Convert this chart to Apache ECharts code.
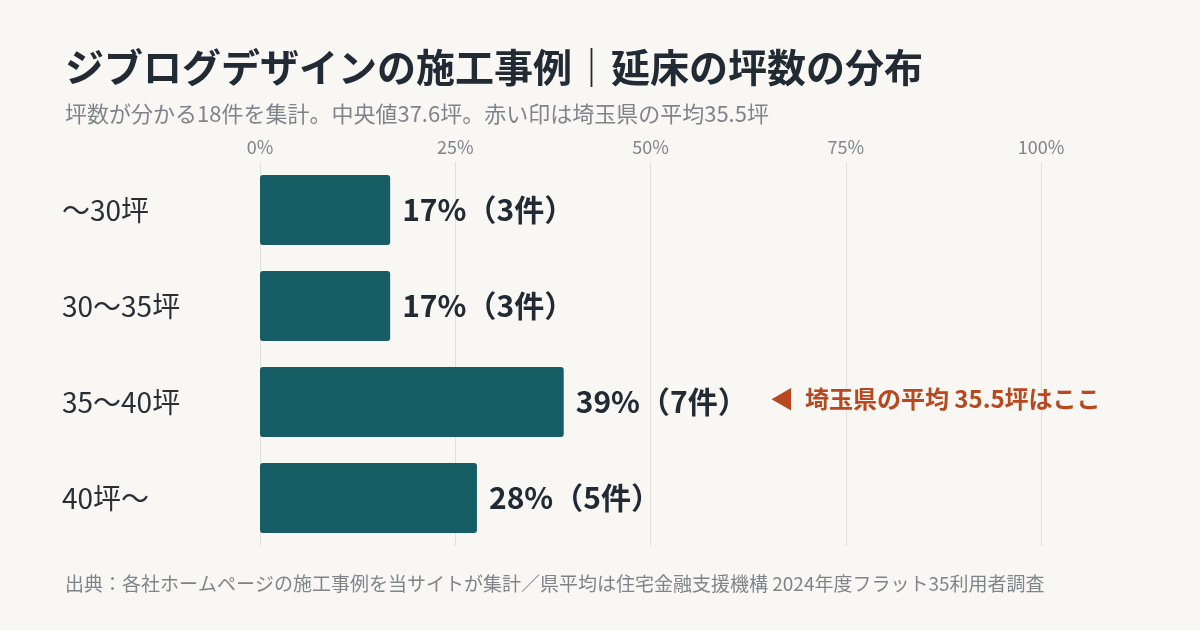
<!DOCTYPE html>
<html><head><meta charset="utf-8">
<script src="https://cdn.jsdelivr.net/npm/echarts@6/dist/echarts.min.js"></script>
<style>html,body{margin:0;background:#f8f7f4}#c{width:1200px;height:630px}</style>
</head><body><div id="c"></div>
<script>
const categories = ['～30坪','30～35坪','35～40坪','40坪～'];
const counts = [3,3,7,5];
const total = 18;
const ticks = ['0%','25%','50%','75%','100%'];
const annotation = '◀  埼玉県の平均 35.5坪はここ';
const annotIndex = 2;
const font = '"Noto Sans CJK JP","Noto Sans",sans-serif';
const pct = counts.map(c => c/total*100);
const chart = echarts.init(document.getElementById('c'));
chart.setOption({
  backgroundColor:'#f8f7f4',
  textStyle:{fontFamily:font},
  title:[
    {text:'ジブログデザインの施工事例｜延床の坪数の分布',left:60,top:43,textStyle:{fontSize:39,fontWeight:'bold',color:'#222a33',fontFamily:font}},
    {text:'坪数が分かる18件を集計。中央値37.6坪。赤い印は埼玉県の平均35.5坪',left:60,top:98,textStyle:{fontSize:22,fontWeight:'normal',color:'#80848a',fontFamily:font}},
    {text:'出典：各社ホームページの施工事例を当サイトが集計／県平均は住宅金融支援機構 2024年度フラット35利用者調査',left:60,top:569,textStyle:{fontSize:19,fontWeight:'normal',color:'#80848a',fontFamily:font}}
  ],
  grid:{left:260,width:781,top:162,height:384},
  xAxis:{type:'value',position:'top',min:0,max:100,interval:25,
    axisLabel:{formatter:v=>ticks[v/25],fontSize:18,color:'#80848a',margin:6},
    axisLine:{show:false},axisTick:{show:false},
    splitLine:{lineStyle:{color:'#e2e0dc'}}},
  yAxis:{type:'category',data:categories,inverse:true,
    axisLine:{show:false},axisTick:{show:false},
    axisLabel:{align:'left',margin:198,fontSize:28,color:'#2a2f36'}},
  series:[{type:'bar',data:pct,barWidth:70,
    itemStyle:{color:'#165e63',borderRadius:3},
    label:{show:true,position:'right',distance:12,fontSize:30,fontWeight:'bold',color:'#222a33',
      formatter:p=>Math.round(p.value)+'%（'+counts[p.dataIndex]+'件）'}}]
});
const y = chart.convertToPixel({yAxisIndex:0}, categories[annotIndex]);
chart.setOption({graphic:[{type:'text',left:770,top:y-15,style:{text:annotation,fontSize:24,fontWeight:'bold',fill:'#b8481f',fontFamily:font}}]});
</script></body></html>
